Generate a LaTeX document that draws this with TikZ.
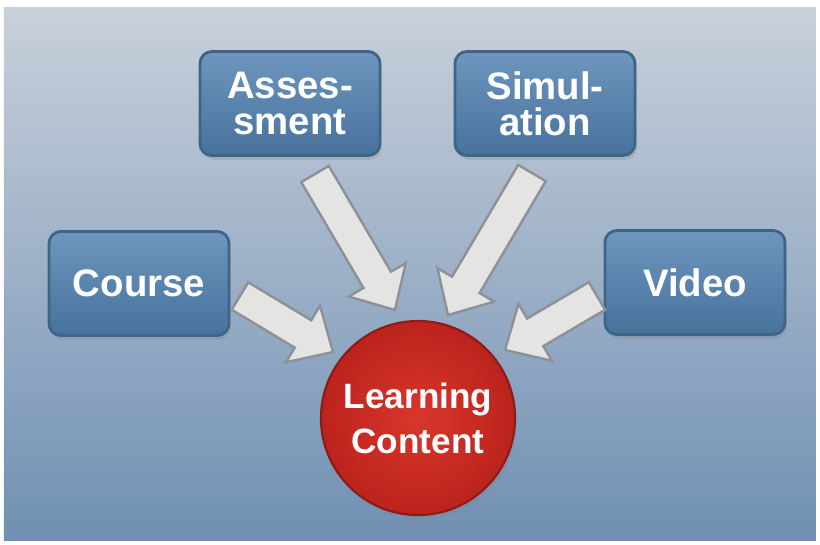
\documentclass[tikz,border=0pt]{standalone}
\usepackage{fontspec}
\setmainfont{Liberation Sans}
\usepackage{tikz}
\usepackage{xcolor}
\usetikzlibrary{
    calc,
    shadows,
    positioning
}
\definecolor{bgtop}{HTML}{C8D0DB}
\definecolor{bgbot}{HTML}{7090B3}
\definecolor{boxtop}{HTML}{6E96BE}
\definecolor{boxbot}{HTML}{47729C}
\definecolor{boxedge}{HTML}{3E6488}
\definecolor{hubin}{HTML}{D8362B}
\definecolor{hubout}{HTML}{BC231D}
\definecolor{hubedge}{HTML}{8E1B16}
\definecolor{arrowfill}{HTML}{E4E4E2}
\definecolor{arrowedge}{HTML}{8E9298}

\tikzset{
    box/.style={rectangle, rounded corners=0.12cm, minimum width=1.80cm, minimum height=1.04cm,
        top color=boxtop, bottom color=boxbot, draw=boxedge, line width=0.8pt,
        drop shadow={opacity=0.25, shadow xshift=0.5pt, shadow yshift=-1.2pt},
        text=white, font=\bfseries\fontsize{10.9}{10.2}\selectfont, align=center},
    hub/.style={circle, minimum size=1.94cm, inner sep=0pt,
        inner color=hubin, outer color=hubout, draw=hubedge, line width=0.6pt,
        drop shadow={opacity=0.25, shadow xshift=0.5pt, shadow yshift=-1.2pt},
        text=white, font=\bfseries\fontsize{10}{12.8}\selectfont, align=center},
    fatarrow/.style={fill=arrowfill, draw=arrowedge, line width=0.7pt, line join=miter}
}

% block arrow from #1 (tail) to #2 (tip)
\newcommand{\fatarrow}[2]{%
    \coordinate (h) at ($(#2)!0.35cm!(#1)$);
    \draw[fatarrow] ($(#1)!0.16cm!90:(#2)$) -- ($(h)!0.16cm!-90:(#1)$) -- ($(h)!0.33cm!-90:(#1)$)
        -- (#2) -- ($(h)!0.33cm!90:(#1)$) -- ($(h)!0.16cm!90:(#1)$) -- ($(#1)!0.16cm!-90:(#2)$) -- cycle;
}

\begin{document}
\begin{tikzpicture}[x={(0.01cm,0)}, y={(0,-0.01cm)}]
    \useasboundingbox (0, 0) rectangle (820, 544);
    \shade[top color=bgtop, bottom color=bgbot] (4, 7) rectangle (816, 540);

    % sources
    \node[box] (assess) at (290, 103.5) {Asses-\\sment};
    \node[box] (sim) at (545, 103.5) {Simul-\\ation};
    \node[box] (course) at (139, 283.5) {Course};
    \node[box] (video) at (695, 282.5) {Video};

    % arrow ends
    \coordinate (assess tail) at (315, 174);
    \coordinate (assess tip) at (395, 310);
    \coordinate (sim tail) at (532, 173);
    \coordinate (sim tip) at (448, 315);
    \coordinate (course tail) at (240, 296);
    \coordinate (course tip) at (333, 352);
    \coordinate (video tail) at (597, 296);
    \coordinate (video tip) at (505, 350);

    \fatarrow{assess tail}{assess tip}
    \fatarrow{sim tail}{sim tip}
    \fatarrow{course tail}{course tip}
    \fatarrow{video tail}{video tip}

    \node[hub] (content) at (418, 418) {Learning\\Content};
\end{tikzpicture}
\end{document}
